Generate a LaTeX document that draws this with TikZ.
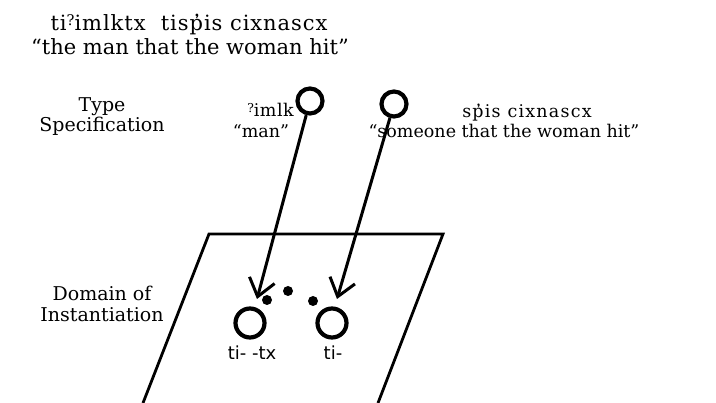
\documentclass[tikz,border=0pt]{standalone}
\usepackage{fontspec}
\setmainfont{DejaVu Serif}
\setsansfont{DejaVu Sans}
\usetikzlibrary{arrows.meta}
\newcommand\pg{p^^^^0313}
\newcommand\gs{\raisebox{0.25em}{\scalebox{0.7}{?}}}
\begin{document}
\begin{tikzpicture}[x=1pt,y=-1pt,
  lbl/.style={inner sep=0pt, anchor=base},
  big/.style={lbl, font=\fontsize{21}{24}\selectfont},
  mid/.style={lbl, font=\fontsize{19}{22}\selectfont},
  sml/.style={lbl, font=\fontsize{17.5}{20}\selectfont},
  tag/.style={lbl, font=\sffamily\fontsize{18}{20}\selectfont},
  ring/.style={circle, draw, line width=4.2pt, inner sep=0pt},
  topring/.style={ring, minimum size=25pt},
  botring/.style={ring, minimum size=29pt},
  dot/.style={circle, fill, inner sep=0pt, minimum size=10pt},
  arr/.style={line width=3pt, -{Straight Barb[length=17pt,width=26pt]}},
  plane/.style={line width=2.8pt, line join=miter}]
\useasboundingbox (0,0) rectangle (716,403);
% title
\node[big] (tl1) at (189,31) {\addfontfeature{LetterSpace=4.5}ti\gs imlktx\ \ tis\pg is cixnascx};
\node[big] (tl2) at (190,55) {``the man that the woman hit''};
% left labels
\node[mid] (ty1) at (102,112) {Type};
\node[mid] (ty2) at (102,132) {Specification};
\node[mid] (dm1) at (102,301) {Domain of};
\node[mid] (dm2) at (102,322) {Instantiation};
% type-level words
\node[sml, anchor=base east] (w1) at (294,117) {\addfontfeature{LetterSpace=3}\gs imlk};
\node[sml] (w1g) at (261,138) {``man''};
\node[sml] (w2) at (527,118) {\addfontfeature{LetterSpace=7}s\pg is cixnascx};
\node[sml] (w2g) at (504,138) {``someone that the woman hit''};
% circles
\node[topring] (c1) at (310,101) {};
\node[topring] (c2) at (394,104) {};
\node[botring] (c3) at (250,323) {};
\node[botring] (c4) at (332,323) {};
% dots
\node[dot] (d1) at (267,300) {};
\node[dot] (d2) at (288,291) {};
\node[dot] (d3) at (313,301) {};
% instance labels
\node[tag] (i1) at (252,360) {ti- -tx};
\node[tag] (i2) at (333,360) {ti-};
% plane
\coordinate (p1) at (209,234);
\coordinate (p2) at (443,234);
\coordinate (p3) at (378,403);
\coordinate (p4) at (143,403);
\draw[plane] (p4) -- (p1) -- (p2) -- (p3);
% arrows
\coordinate (e1) at (257,299);
\coordinate (e2) at (337,299);
\draw[arr] (c1) -- (e1);
\draw[arr] (c2) -- (e2);
\end{tikzpicture}
\end{document}
